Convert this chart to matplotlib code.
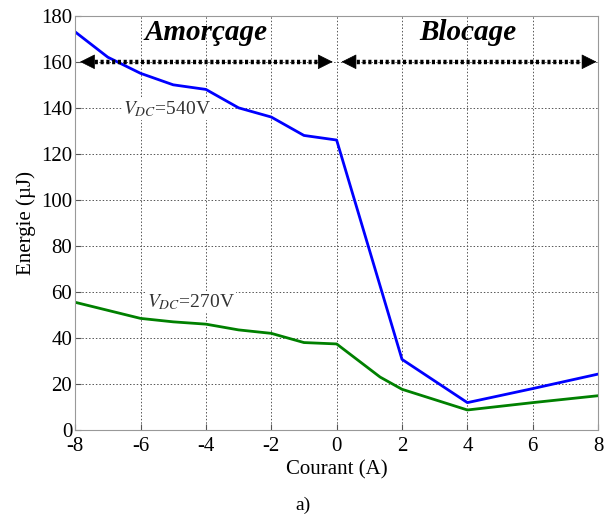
import matplotlib
matplotlib.use("Agg")
import matplotlib.pyplot as plt

x540 = [-8, -7, -6, -5, -4, -3, -2, -1, 0, 2, 4, 6, 8]
y540 = [173, 162, 155, 150, 148, 140, 136, 128, 126, 30.7, 11.9, 18, 24.3]
x270 = [-8, -6, -5, -4, -3, -2, -1, 0, 1.33, 2, 4, 6, 8]
y270 = [55.5, 48.5, 47, 46, 43.5, 42, 38, 37.4, 23, 17.7, 8.7, 11.9, 14.9]
xticks = [-8, -6, -4, -2, 0, 2, 4, 6, 8]
yticks = [0, 20, 40, 60, 80, 100, 120, 140, 160, 180]

plt.rcParams['font.family'] = ['Liberation Serif', 'DejaVu Serif']
plt.rcParams['axes.unicode_minus'] = False
fig = plt.figure(figsize=(6.06, 5.26), dpi=100)
ax = fig.add_axes([0.124, 0.1825, 0.863, 0.7875])

ax.plot(x540, y540, color='#0000ff', lw=2)
ax.plot(x270, y270, color='#008000', lw=2)

ax.set_xlim(-8, 8)
ax.set_ylim(0, 180)
ax.set_xticks(xticks)
ax.set_yticks(yticks)
ax.tick_params(direction='in', labelsize=15, length=4, color='#555555')
ax.tick_params(axis='y', pad=2)
ax.tick_params(axis='x', pad=5)
ax.grid(True, linestyle=(0, (1.5, 2)), color='#555555', lw=0.7)
for s in ax.spines.values():
    s.set_color('#999999')

ax.set_xlabel('Courant (A)', fontsize=15, labelpad=3)
ax.set_ylabel('Energie (µJ)', fontsize=15, labelpad=4)

# double-headed dotted arrows (tips)
hl = 0.35
for (a, b) in [(-7.85, -0.12), (0.15, 7.95)]:
    ax.plot([a + hl * 0.8, b - hl * 0.8], [160, 160], color='black', lw=3.2,
            linestyle=(0, (0.7, 0.6)), dash_capstyle='butt')
    head = dict(arrowstyle='-|>,head_length=0.7,head_width=0.35', color='black',
                lw=0.5, mutation_scale=14, shrinkA=0, shrinkB=0)
    ax.annotate('', xy=(a, 160), xytext=(a + hl, 160), arrowprops=head,
                annotation_clip=False)
    ax.annotate('', xy=(b, 160), xytext=(b - hl, 160), arrowprops=head,
                annotation_clip=False)

ax.text(-4, 167, 'Amorçage', fontsize=21, fontweight='bold', fontstyle='italic',
        ha='center', va='bottom')
ax.text(4, 167, 'Blocage', fontsize=21, fontweight='bold', fontstyle='italic',
        ha='center', va='bottom')

ax.text(-6.55, 139.5, r'$V_{DC}$=540V', fontsize=14, color='#333333', va='center',
        bbox=dict(facecolor='white', edgecolor='none', pad=0.5),
        math_fontfamily='stix')
ax.text(-5.8, 55.5, r'$V_{DC}$=270V', fontsize=14, color='#333333', va='center',
        bbox=dict(facecolor='white', edgecolor='none', pad=0.5),
        math_fontfamily='stix')

fig.text(0.5, 0.04, 'a)', ha='center', va='center', fontsize=14)

fig.savefig('out.png', dpi=100)
